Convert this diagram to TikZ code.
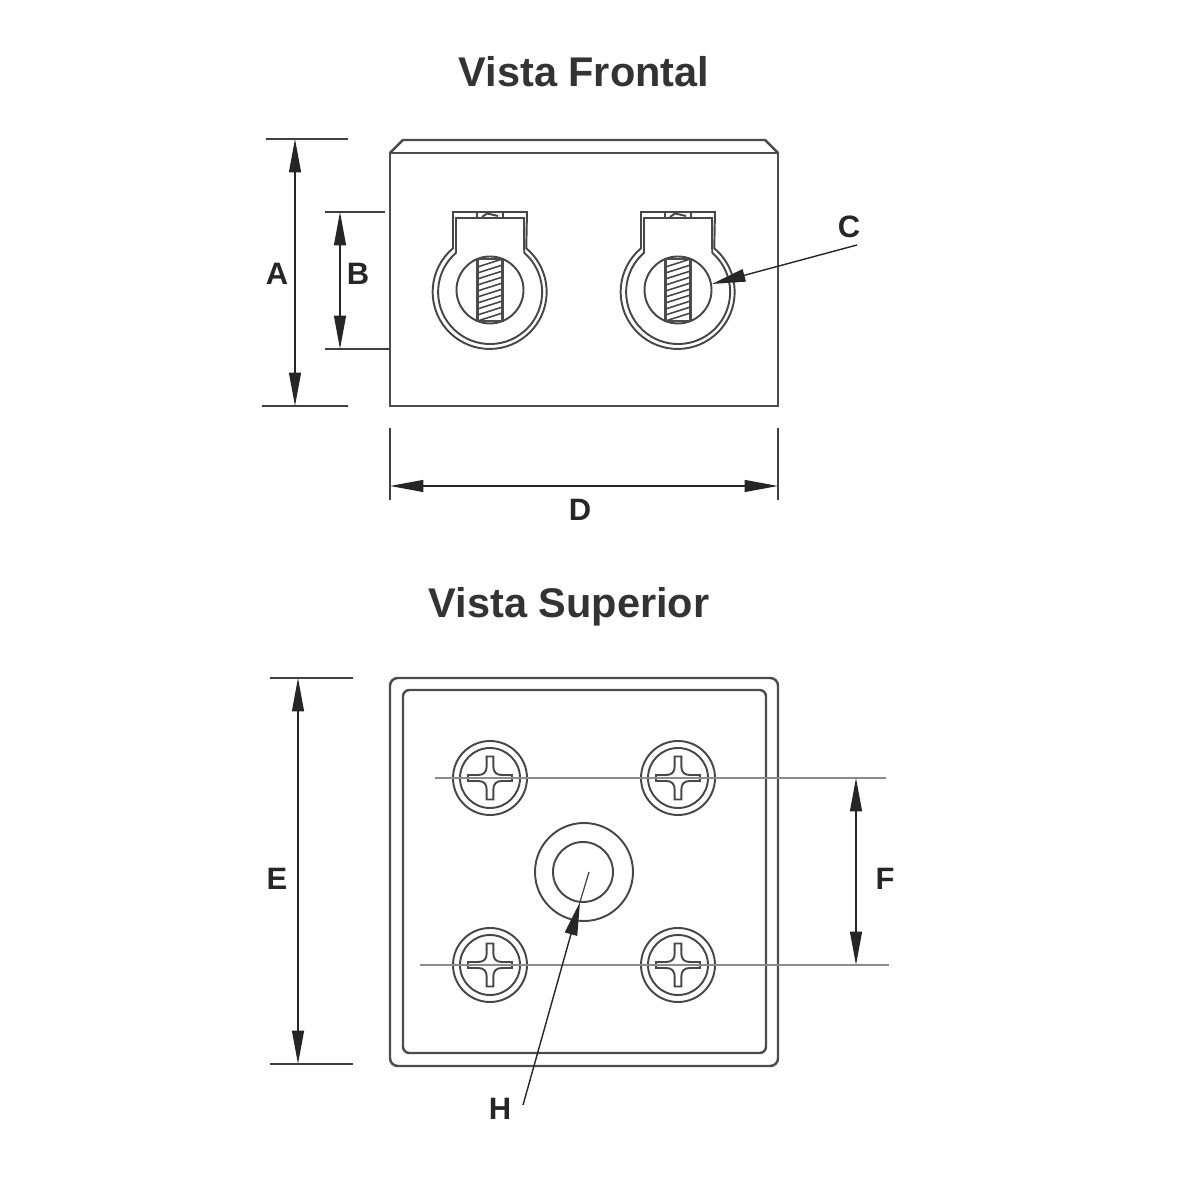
\documentclass[tikz,border=0pt]{standalone}
\usepackage{fontspec}
\setmainfont{Liberation Sans}
\usetikzlibrary{arrows.meta}

\tikzset{
  part/.style={draw=black!70,line width=0.7pt},
  thinpart/.style={draw=black!72,line width=0.55pt},
  extline/.style={draw=black!75,line width=0.35pt},
  gridline/.style={draw=black!45,line width=0.45pt},
  dimline/.style={draw=black!85,line width=0.4pt,{Triangle[length=9.5pt,width=3.4pt]}-{Triangle[length=9.5pt,width=3.4pt]}},
  leadline/.style={draw=black!85,line width=0.4pt,-{Triangle[length=9.5pt,width=3.6pt]}},
  titlelabel/.style={font=\fontsize{11.8}{14}\selectfont\bfseries,text=black!80},
  dimlabel/.style={font=\fontsize{8.8}{10}\selectfont\bfseries,text=black!85},
  terminal/.pic={
    \draw[thinpart] (-37,78) -- (-37,41.7) arc[start angle=130,end angle=410,radius=57] -- (37,78) -- cycle;
    \draw[thinpart] (-34,72) -- (-34,37.2) arc[start angle=131,end angle=409,radius=52] -- (34,72) -- cycle;
    \draw[thinpart] (0,0) circle (33.5);
    \draw[thinpart] (-13,72) rectangle (13,78);
    \draw[thinpart] (-8,73) -- (-3,76.5) -- (8,74);
    \draw[part] (-12.5,-31) rectangle (12.5,31);
    \foreach \i in {-27,-21,...,27}
      \draw[thinpart,line width=0.45pt] (-12.5,\i-4) -- (12.5,\i+4);
  },
  screw/.pic={
    \draw[thinpart] (0,0) circle (37);
    \draw[thinpart] (0,0) circle (30);
    \draw[thinpart] (22,3) -- (12,3) .. controls (6,3) and (3.3,6) .. (3.3,12)
      -- (3.3,21.5) -- (-3.3,21.5) -- (-3.3,12) .. controls (-3.3,6) and (-6,3) .. (-12,3)
      -- (-22,3) -- (-22,-3) -- (-12,-3) .. controls (-6,-3) and (-3.3,-6) .. (-3.3,-12)
      -- (-3.3,-21.5) -- (3.3,-21.5) -- (3.3,-12) .. controls (3.3,-6) and (6,-3) .. (12,-3)
      -- (22,-3) -- cycle;
  }
}

\begin{document}
\begin{tikzpicture}[x=0.01cm,y=0.01cm]
\useasboundingbox (0,0) rectangle (1200,1200);

\node[titlelabel] (frontalTitle) at (584,1128) {Vista Frontal};
\node[titlelabel] (superiorTitle) at (569,593) {Vista Superior};

\draw[part] (390,794) rectangle (778,1047);
\draw[part] (390,1047) -- (403,1060) -- (765,1060) -- (778,1047);

\pic at (490,910) {terminal};
\pic at (678,910) {terminal};

\coordinate (aTopL) at (266,1061);
\coordinate (aTopR) at (348,1061);
\coordinate (aBotL) at (262,794);
\coordinate (aBotR) at (348,794);
\coordinate (aTop) at (295,1061);
\coordinate (aBot) at (295,794);
\draw[extline] (aTopL) -- (aTopR);
\draw[extline] (aBotL) -- (aBotR);
\draw[dimline] (aTop) -- (aBot);

\coordinate (bTopL) at (325,988);
\coordinate (bTopR) at (385,988);
\coordinate (bBotL) at (325,851);
\coordinate (bBotR) at (390,851);
\coordinate (bTop) at (340,988);
\coordinate (bBot) at (340,851);
\draw[extline] (bTopL) -- (bTopR);
\draw[extline] (bBotL) -- (bBotR);
\draw[dimline] (bTop) -- (bBot);

\coordinate (dLeftT) at (390,772);
\coordinate (dLeftB) at (390,700);
\coordinate (dRightT) at (778,772);
\coordinate (dRightB) at (778,700);
\coordinate (dLeft) at (390,714);
\coordinate (dRight) at (778,714);
\draw[extline] (dLeftT) -- (dLeftB);
\draw[extline] (dRightT) -- (dRightB);
\draw[dimline] (dLeft) -- (dRight);

\coordinate (cStart) at (857,955);
\coordinate (cTip) at (712,916);
\draw[leadline] (cStart) -- (cTip);

\node[dimlabel] (labelA) at (277,926) {A};
\node[dimlabel] (labelB) at (358,926) {B};
\node[dimlabel] (labelC) at (849,973) {C};
\node[dimlabel] (labelD) at (580,690) {D};

\draw[part,rounded corners=2.2pt] (390,134) rectangle (778,522);
\draw[part,rounded corners=1.8pt] (403,147) rectangle (766,510);

\pic at (490,422) {screw};
\pic at (678,422) {screw};
\pic at (490,235) {screw};
\pic at (678,235) {screw};

\draw[thinpart] (584,328) circle (49);
\draw[thinpart] (583,328) circle (30);

\coordinate (fTopL) at (435,422);
\coordinate (fTopR) at (886,422);
\coordinate (fBotL) at (420,235);
\coordinate (fBotR) at (889,235);
\coordinate (fTop) at (856,422);
\coordinate (fBot) at (856,235);
\draw[gridline] (fTopL) -- (fTopR);
\draw[gridline] (fBotL) -- (fBotR);
\draw[dimline] (fTop) -- (fBot);

\coordinate (eTopL) at (270,522);
\coordinate (eTopR) at (353,522);
\coordinate (eBotL) at (270,136);
\coordinate (eBotR) at (353,136);
\coordinate (eTop) at (298,522);
\coordinate (eBot) at (298,136);
\draw[extline] (eTopL) -- (eTopR);
\draw[extline] (eBotL) -- (eBotR);
\draw[dimline] (eTop) -- (eBot);

\coordinate (hStart) at (523,95);
\coordinate (hTip) at (580,298);
\coordinate (hEnd) at (589,328);
\draw[leadline] (hStart) -- (hTip);
\draw[extline] (hTip) -- (hEnd);

\node[dimlabel] (labelE) at (277,321) {E};
\node[dimlabel] (labelF) at (885,321) {F};
\node[dimlabel] (labelH) at (500,91) {H};
\end{tikzpicture}
\end{document}
